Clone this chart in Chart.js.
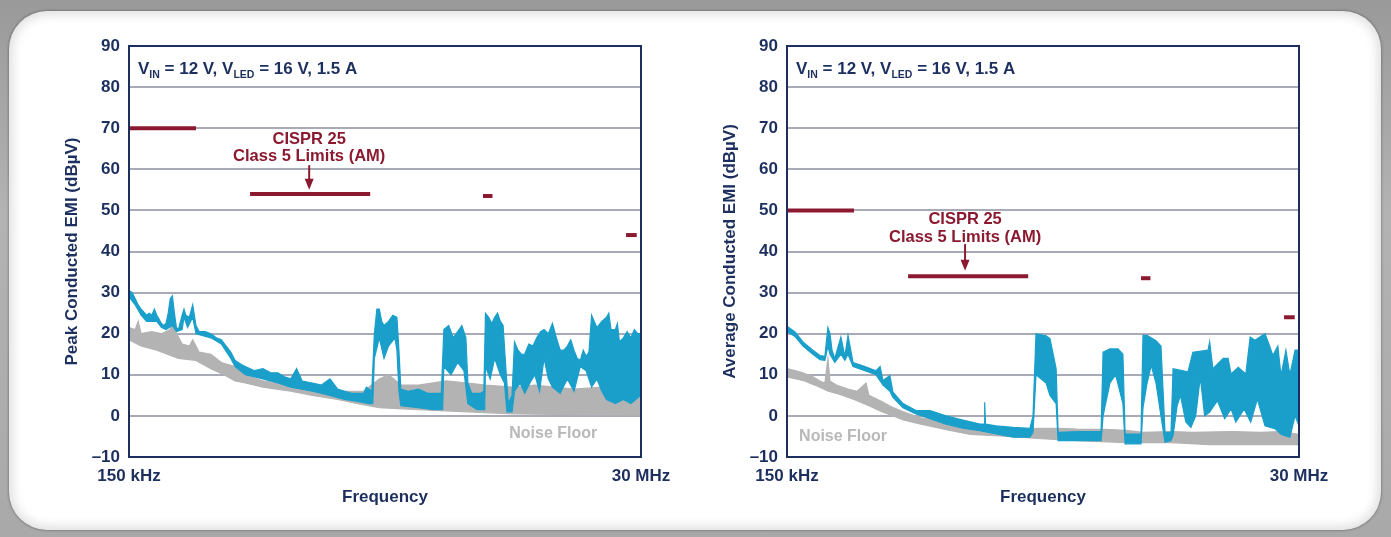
<!DOCTYPE html>
<html>
<head>
<meta charset="utf-8">
<script src="https://cdn.jsdelivr.net/npm/chart.js@4"></script>
<style>
  html, body { margin: 0; padding: 0; }
  body {
    width: 1391px; height: 537px; overflow: hidden; position: relative;
    background: linear-gradient(#9a9a9a, #b3b3b3 40%, #a9a9a9);
  }
  #panel {
    position: absolute; left: 9px; top: 11px; width: 1372px; height: 519px;
    border-radius: 38px; background: #fff;
    box-shadow: 0 0 3px rgba(0,0,0,0.45), inset 0 0 12px 3px rgba(0,0,0,0.14);
  }
  canvas { position: absolute; top: 20px; }
  #peak { left: 40px; }
  #avg { left: 698px; }
</style>
</head>
<body>
<div id="panel"></div>
<canvas id="peak" width="640" height="500"></canvas>
<canvas id="avg" width="640" height="500"></canvas>
<script>
// x axis: frequency in MHz (log), y: level in dBµV
const tickFreqs = [0.15, 30];
const tickLabels = ['150 kHz', '30 MHz'];

// CISPR 25 class 5 AM bands (MHz) and limit levels
const limitStart = [0.15, 0.525, 5.85, 25.7];
const limitEnd = [0.3, 1.82, 6.45, 28.7];
const peakLimit = [70, 54, 53.5, 44];
const avgLimit = [50, 34, 33.5, 24];

// peak scan, measured trace (upper / lower edge of the band), [MHz, dBµV]
const peakUpper = [[0.15,30.5],[0.155,30],[0.16,28.5],[0.165,27],[0.17,26],[0.18,24.5],[0.185,25],[0.19,24.5],[0.195,26],[0.2,24.5],
  [0.21,22.5],[0.215,22],[0.22,22.5],[0.225,25],[0.23,28.5],[0.235,29.2],[0.24,25],[0.245,21.5],[0.25,21],[0.26,24.5],
  [0.265,26],[0.27,24.5],[0.28,24],[0.29,27],[0.3,22],[0.31,20.5],[0.33,20.5],[0.35,20],[0.37,19],[0.39,18.5],
  [0.41,17],[0.43,15.5],[0.45,13.5],[0.48,12.5],[0.5,12],[0.55,11],[0.6,11.5],[0.65,10.5],[0.7,10.5],[0.75,9.5],
  [0.8,9],[0.85,11.5],[0.9,8.5],[1.0,8],[1.1,7.5],[1.2,9],[1.3,6.5],[1.4,6],[1.5,5.5],[1.6,5.5],
  [1.7,5.5],[1.75,7],[1.85,6],[1.9,20],[1.95,26],[2.0,26],[2.05,23],[2.1,22],[2.2,23],[2.3,24.5],
  [2.4,24],[2.45,16],[2.5,6.5],[2.7,6],[3.0,6.5],[3.3,5.5],[3.6,5.5],[3.8,5.5],[3.9,21],[4.1,22],
  [4.3,19],[4.5,20.5],[4.7,22],[4.9,19],[5.0,8],[5.2,5.5],[5.5,5.5],[5.7,5.5],[5.9,6],[6.0,25],
  [6.2,24],[6.4,22.5],[6.6,24],[6.8,25],[7.0,23],[7.2,22],[7.4,12],[7.6,3],[7.9,5],[8.1,18],
  [8.4,16],[8.7,15],[9.0,15],[9.4,17.5],[9.8,17],[10.2,19],[10.6,20.5],[11.0,21],[11.5,20],[12.0,22.5],
  [12.5,19],[13.0,16],[13.5,16],[14.0,17],[14.5,18.5],[15.0,16],[15.5,14],[16.0,13.5],[16.5,16],[17.0,14.5],
  [17.5,15.5],[18.0,24.5],[18.5,23],[19.0,21.5],[20.0,23],[21.0,24],[21.5,25],[22.0,21],[23.0,21],[23.5,22.5],
  [24.0,18],[25.0,19],[26.0,20.5],[27.0,19],[28.0,21],[29.0,20],[30.0,20]];
const peakLower = [[0.15,29],[0.16,27],[0.17,24.5],[0.18,23],[0.2,23],[0.21,21.5],[0.22,21],[0.235,22],[0.245,20.5],[0.26,21],
  [0.265,24],[0.275,21.5],[0.29,24],[0.3,20],[0.35,19],[0.39,17.5],[0.43,14],[0.45,12],[0.5,10],[0.55,9.5],
  [0.6,9],[0.7,8],[0.8,7],[0.9,6.5],[1.0,6],[1.2,5],[1.4,4],[1.6,3.5],[1.8,3],[1.87,3],
  [1.9,14],[2.0,19],[2.1,14],[2.2,17],[2.35,19],[2.4,16],[2.45,6],[2.5,2.5],[3.0,2],[3.5,1.5],
  [3.85,1.5],[3.9,12],[4.2,10],[4.5,13],[4.8,11],[5.0,3],[5.5,1.5],[5.95,1.5],[6.0,12],[6.3,9],
  [6.6,14],[7.0,10],[7.3,8],[7.5,1],[7.9,1],[8.1,6],[8.6,8],[9.0,5.5],[9.5,8],[10.0,10],
  [10.5,6],[11.0,14],[11.5,9],[12.0,7],[13.0,5.5],[14.0,9],[15.0,6],[16.0,12],[17.0,11],[18.0,7],
  [19.0,9],[20.0,6],[21.0,4],[23.0,3],[25.0,4],[27.0,3],[30.0,5]];
// peak scan, noise floor
const peakFloorUpper = [[0.15,21.5],[0.16,21],[0.165,23],[0.17,20],[0.19,20.5],[0.21,20],[0.23,21],[0.235,26],[0.24,21],[0.26,17.5],
  [0.28,17],[0.29,18.5],[0.31,15.5],[0.35,15],[0.39,13],[0.45,12],[0.5,10],[0.6,8.5],[0.7,8],[0.8,7.5],
  [1.0,7],[1.3,6],[1.7,6],[2.0,9],[2.2,10],[2.5,7.5],[3.0,7.5],[4.0,8.5],[5.0,8],[6.0,7.5],
  [8.0,7],[10.0,7.5],[15.0,6.5],[20.0,7],[25.0,6],[30.0,6]];
const peakFloorLower = [[0.15,18.5],[0.17,17],[0.2,16],[0.25,14],[0.3,13.5],[0.35,11.5],[0.4,10],[0.45,8.5],[0.5,8],[0.6,7],
  [0.8,6],[1.0,5],[1.3,4],[1.6,3],[2.0,2],[3.0,1.5],[5.0,1],[8.0,0.5],[15.0,0.3],[30.0,0.2]];

// average scan, measured trace
const avgUpper = [[0.15,21.8],[0.163,20.4],[0.177,18],[0.196,16],[0.211,14.7],[0.222,14.5],[0.229,21.5],[0.234,20],[0.239,16],[0.246,14],
  [0.262,19.2],[0.273,14.5],[0.282,19.6],[0.297,13],[0.336,12],[0.377,11],[0.393,12],[0.405,8.6],[0.435,9.8],[0.449,5.8],
  [0.498,3],[0.57,1.3],[0.659,1.3],[0.778,0],[0.927,-1],[1.105,-2],[1.152,-2],[1.16,3.3],[1.17,-2],[1.305,-2.4],
  [1.556,-2.8],[1.854,-3],[1.913,0],[1.973,20],[2.19,19.5],[2.28,18.8],[2.43,11.5],[2.48,-4],[3.11,-3.8],[3.87,-3.8],
  [3.95,15.5],[4.24,16.3],[4.61,16.3],[4.85,15],[4.96,-4.4],[5.85,-4.4],[5.97,19.6],[6.23,19.6],[6.83,18.3],[7.19,17],
  [7.5,-4],[7.98,-4],[8.15,11.5],[9.51,10.7],[10.0,15.5],[11.7,16],[11.9,18],[12.3,11.5],[13.7,14],[14.4,14],
  [14.85,10.2],[16.0,11.8],[17.3,10.2],[18.1,19.2],[19.0,18.4],[21.1,20],[21.8,18],[22.9,14.7],[24.1,17],[24.9,9.8],
  [26.2,16],[27.3,10],[28.8,16],[30,16]];
const avgLower = [[0.15,20.5],[0.163,19.3],[0.177,17],[0.196,15],[0.211,13.7],[0.222,13.5],[0.229,17],[0.234,15],[0.246,13],[0.262,15],
  [0.273,13.5],[0.282,15],[0.297,12],[0.336,11],[0.377,10],[0.405,7.5],[0.435,6],[0.449,4.5],[0.498,2],[0.57,0.5],
  [0.659,-0.7],[0.778,-2],[0.927,-3],[1.105,-3.6],[1.305,-4.4],[1.556,-5.2],[1.854,-5.2],[1.913,-4],[1.973,10],[2.19,8],
  [2.28,5],[2.43,3],[2.48,-6],[3.11,-6],[3.87,-6],[3.95,0],[4.24,8],[4.5,10],[4.85,3],[4.96,-6.8],
  [5.85,-6.8],[5.97,2],[6.23,8],[6.5,12.3],[6.83,8],[7.19,0],[7.5,-6.4],[7.98,-6],[8.15,-4.8],[8.5,2.5],
  [8.8,5],[9.3,-1.5],[9.8,-2.8],[10.3,0],[10.8,9.4],[11.3,0],[11.9,0.9],[12.9,3.7],[13.9,-0.7],[14.85,1.7],
  [15.6,-1.5],[17.0,1.7],[18.2,-1.5],[19.5,4.1],[21.1,-2.4],[23.5,-3.2],[25,-4.5],[27.3,-5.2],[28.8,0],[30,-2.4]];
// average scan, noise floor
const avgFloorUpper = [[0.15,11.5],[0.163,11],[0.177,10.5],[0.196,9.5],[0.211,8.5],[0.222,8],[0.229,14],[0.234,8.5],[0.25,7.5],[0.282,6.5],
  [0.31,6],[0.34,8],[0.35,5],[0.4,3.5],[0.45,2],[0.5,1],[0.6,-0.5],[0.8,-1.5],[1.0,-2.5],[1.3,-3],
  [1.6,-3.5],[2.0,-3],[2.5,-3],[3.0,-3.2],[4.0,-3.3],[5.0,-3.5],[6.0,-4],[8.0,-3.8],[10,-4],[15,-3.8],
  [20,-4],[25,-3.8],[30,-4.5]];
const avgFloorLower = [[0.15,9.5],[0.18,8.5],[0.2,7.5],[0.23,6],[0.25,5.5],[0.3,4],[0.35,2.5],[0.4,1],[0.45,0],[0.5,-1],
  [0.6,-2],[0.8,-3.5],[1.0,-4.5],[1.5,-5],[2.0,-5.5],[3.0,-6],[5.0,-6.5],[8.0,-6.5],[12,-7],[20,-7],[30,-7]];

const NAVY = '#1c2f5e';
const GRID = '#a8aab8';
const BLUE = '#1a9fcb';
const GREY = '#b3b3b3';
const RED = '#8b1a31';
const FONT = "'Liberation Sans', Arial, sans-serif";

function pts(pairs) {
  return pairs.map(p => ({ x: p[0], y: p[1] }));
}

// V_IN / V_LED label with subscripts
function drawCondition(ctx, x, y) {
  const parts = [['V', 0], ['IN', 1], [' = 12 V, V', 0], ['LED', 1], [' = 16 V, 1.5 A', 0]];
  ctx.textAlign = 'left';
  ctx.textBaseline = 'alphabetic';
  ctx.fillStyle = NAVY;
  parts.forEach(([t, sub]) => {
    ctx.font = sub ? `bold 10.5px ${FONT}` : `bold 17px ${FONT}`;
    ctx.fillText(t, x, sub ? y + 4 : y);
    x += ctx.measureText(t).width;
  });
}

const decor = {
  id: 'decor',
  afterDatasetsDraw(chart, args, o) {
    const { ctx, chartArea: a, scales: { x, y } } = chart;
    ctx.save();
    ctx.strokeStyle = NAVY;
    ctx.lineWidth = 2;
    ctx.strokeRect(a.left, a.top, a.right - a.left, a.bottom - a.top);

    drawCondition(ctx, a.left + 9, a.top + 28);

    // limits note + arrow
    const nx = x.getPixelForValue(o.noteFreq);
    ctx.fillStyle = RED;
    ctx.textAlign = 'center';
    ctx.textBaseline = 'middle';
    ctx.font = `bold 16.5px ${FONT}`;
    ctx.fillText('CISPR 25', nx, y.getPixelForValue(o.noteLevels[0]));
    ctx.fillText('Class 5 Limits (AM)', nx, y.getPixelForValue(o.noteLevels[1]));
    const y0 = y.getPixelForValue(o.arrow[0]);
    const y1 = y.getPixelForValue(o.arrow[1]);
    ctx.strokeStyle = RED;
    ctx.lineWidth = 2;
    ctx.beginPath();
    ctx.moveTo(nx, y0);
    ctx.lineTo(nx, y1 - 8);
    ctx.stroke();
    ctx.beginPath();
    ctx.moveTo(nx - 4.5, y1 - 11);
    ctx.lineTo(nx + 4.5, y1 - 11);
    ctx.lineTo(nx, y1);
    ctx.closePath();
    ctx.fill();

    ctx.fillStyle = '#b8b8b8';
    ctx.font = `bold 16px ${FONT}`;
    ctx.fillText('Noise Floor', x.getPixelForValue(o.noiseAt[0]), y.getPixelForValue(o.noiseAt[1]));
    ctx.restore();
  }
};

function makeChart(id, o) {
  const font = { family: FONT, size: 17, weight: 'bold' };
  const limitSets = limitStart.map((s, i) => ({
    data: [{ x: s, y: o.limits[i] }, { x: limitEnd[i], y: o.limits[i] }],
    borderColor: RED, borderWidth: 4, borderCapStyle: 'butt', fill: false, order: 0
  }));
  return new Chart(document.getElementById(id), {
    type: 'line',
    data: {
      datasets: [
        ...limitSets,
        { data: pts(o.upper), borderColor: BLUE, backgroundColor: BLUE, fill: '+1', order: 1 },
        { data: pts(o.lower), borderColor: BLUE, fill: false, order: 1 },
        { data: pts(o.floorUpper), borderColor: GREY, backgroundColor: GREY, fill: '+1', order: 2 },
        { data: pts(o.floorLower), borderColor: GREY, fill: false, order: 2 }
      ]
    },
    options: {
      responsive: false,
      animation: false,
      layout: { padding: { top: 26, right: 39, left: 0, bottom: 0 } },
      elements: { point: { radius: 0 }, line: { borderWidth: 1.2, tension: 0 } },
      plugins: {
        legend: { display: false },
        tooltip: { enabled: false },
        decor: o.note
      },
      scales: {
        x: {
          type: 'logarithmic', min: 0.15, max: 30,
          grid: { display: false },
          border: { display: false },
          afterBuildTicks: s => { s.ticks = tickFreqs.map(v => ({ value: v })); },
          afterFit: s => { s.height = 63; },
          ticks: {
            autoSkip: false, maxRotation: 0, padding: 1, color: NAVY, font,
            callback: (v, i) => tickLabels[i]
          },
          title: { display: true, text: 'Frequency', color: NAVY, font, padding: { top: 0, bottom: 12 } }
        },
        y: {
          min: -10, max: 90,
          grid: { color: GRID, lineWidth: 2, drawTicks: false },
          border: { display: false },
          afterFit: s => { s.width = 89; },
          ticks: {
            stepSize: 10, padding: 9, color: NAVY, font,
            callback: v => (v < 0 ? '\u2013' + Math.abs(v) : v)
          },
          title: { display: true, text: o.yTitle, color: NAVY, font, padding: { top: 22, bottom: 0 } }
        }
      }
    },
    plugins: [decor]
  });
}

makeChart('peak', {
  yTitle: 'Peak Conducted EMI (dB\u00b5V)',
  limits: peakLimit,
  upper: peakUpper, lower: peakLower,
  floorUpper: peakFloorUpper, floorLower: peakFloorLower,
  note: { noteFreq: 0.968, noteLevels: [67.3, 63.1], arrow: [61, 55], noiseAt: [12.1, -4.2] }
});

makeChart('avg', {
  yTitle: 'Average Conducted EMI (dB\u00b5V)',
  limits: avgLimit,
  upper: avgUpper, lower: avgLower,
  floorUpper: avgFloorUpper, floorLower: avgFloorLower,
  note: { noteFreq: 0.947, noteLevels: [47.7, 43.4], arrow: [41.8, 35.3], noiseAt: [0.268, -5.1] }
});
</script>
</body>
</html>
